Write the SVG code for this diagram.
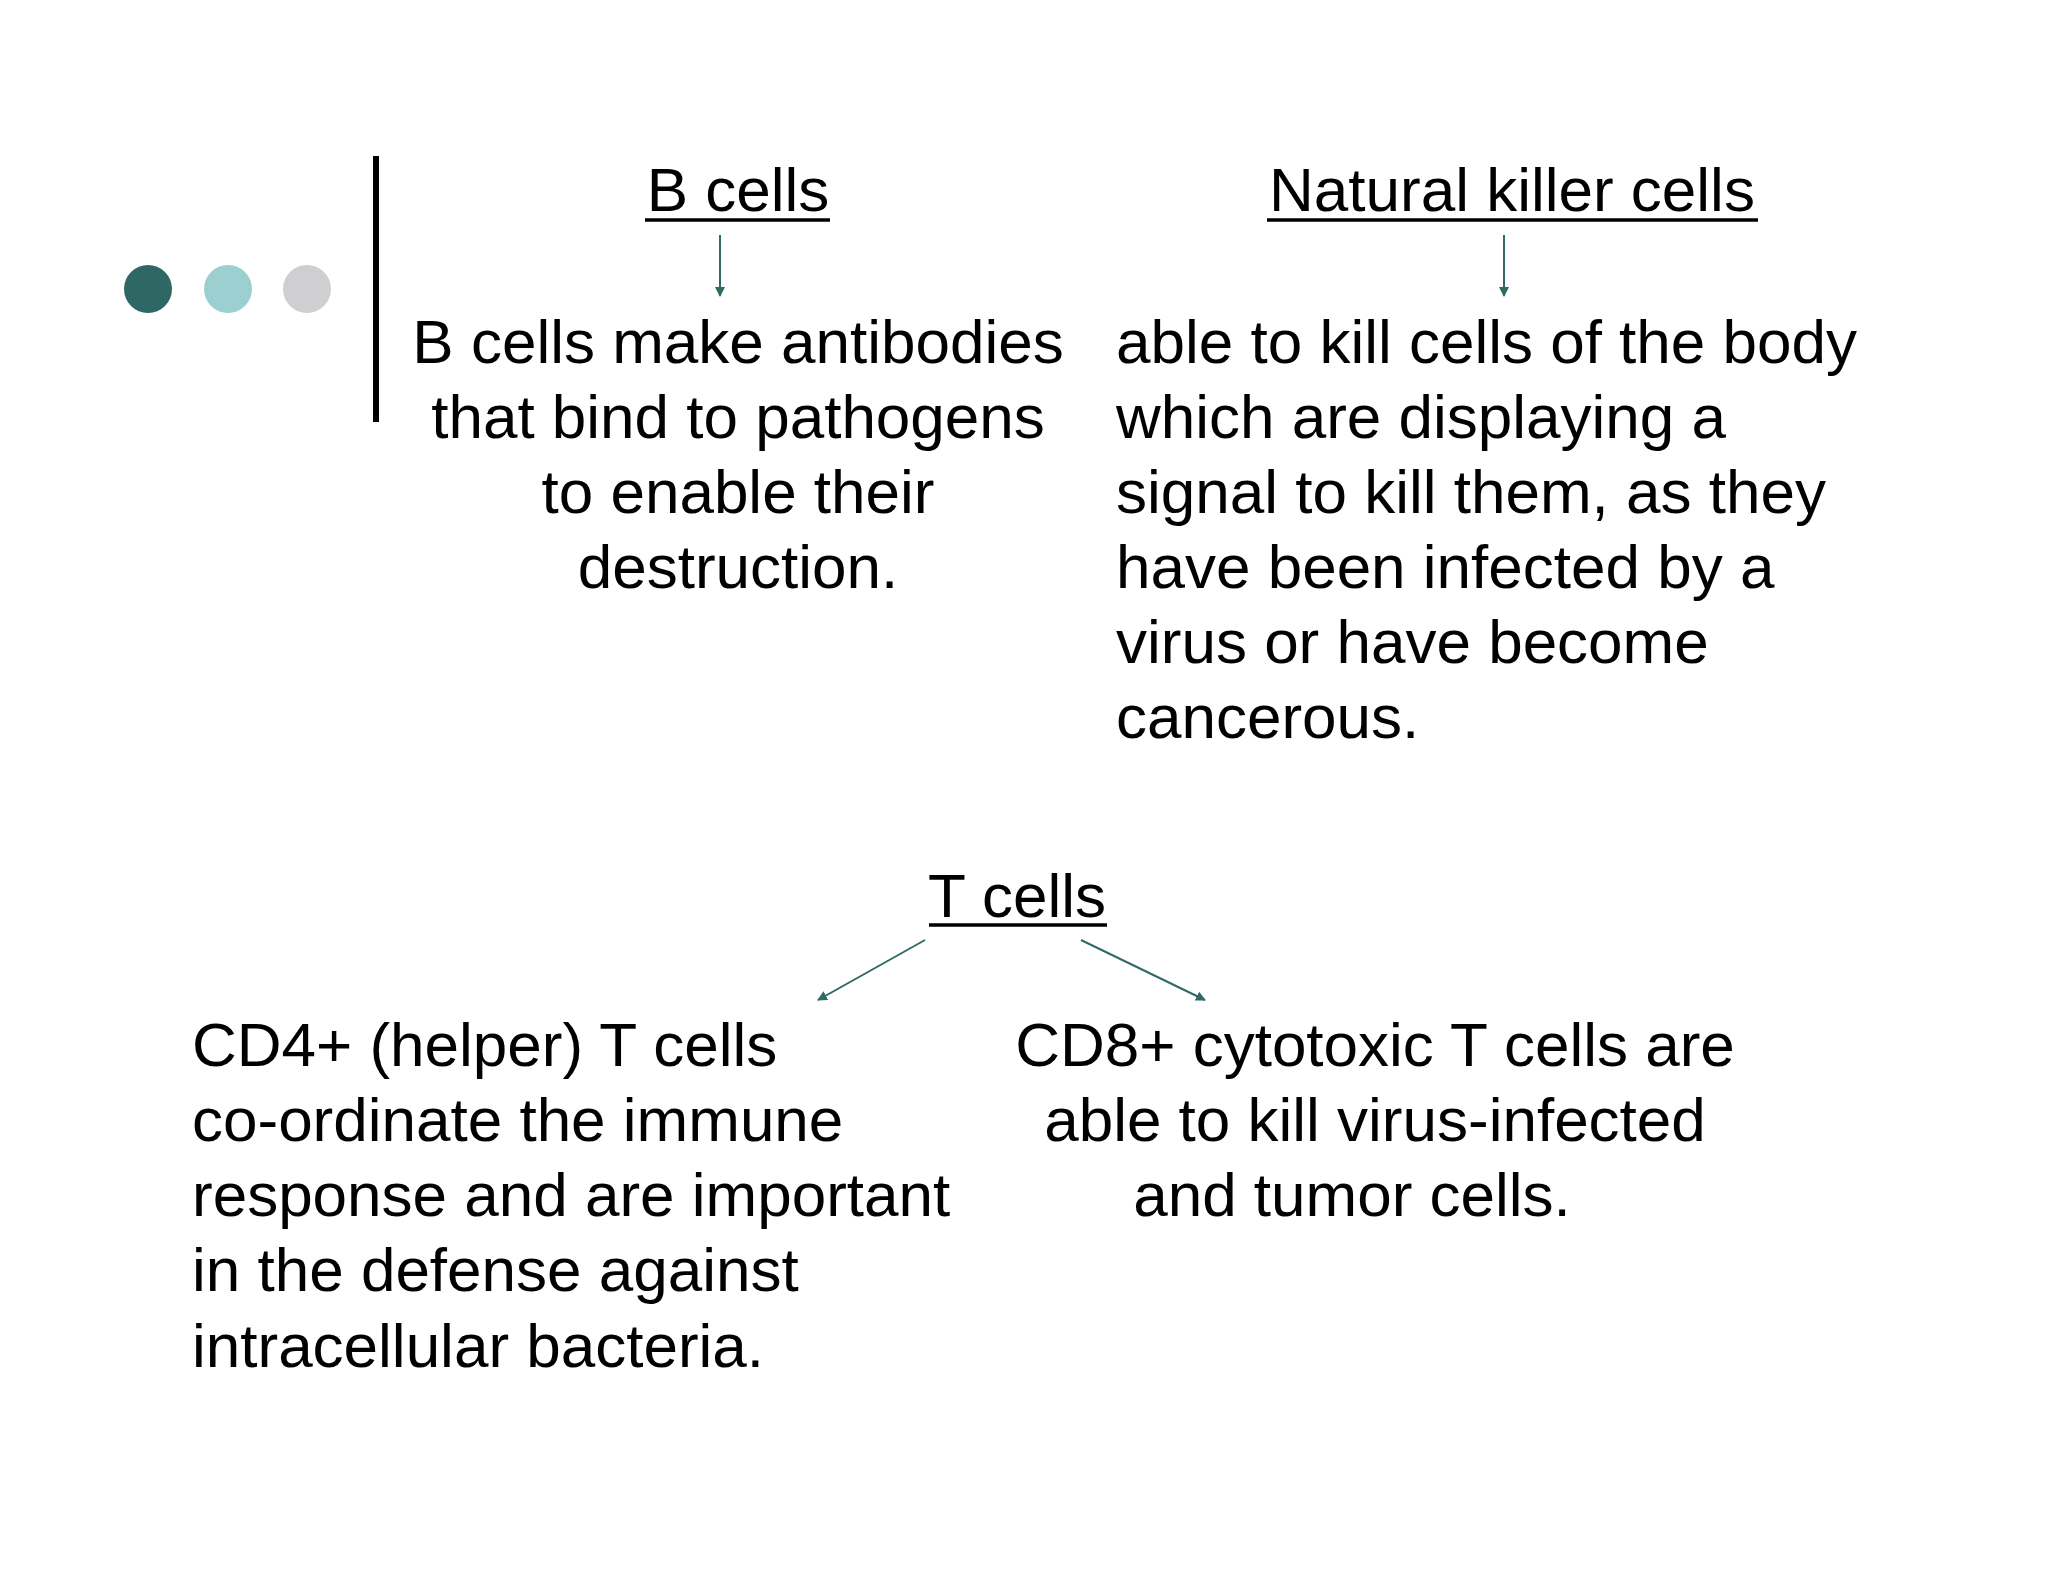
<svg xmlns="http://www.w3.org/2000/svg" width="2048" height="1582" viewBox="0 0 2048 1582">
<style>
text{font-family:"Liberation Sans",Arial,sans-serif;font-size:62px;fill:#000}
.c{text-anchor:middle}
.ul{stroke:#000;stroke-width:3.5}
.ar{stroke:#2f6a64;stroke-width:2;fill:none;marker-end:url(#ah)}
</style>
<defs><marker id="ah" markerWidth="10" markerHeight="10" refX="9" refY="5" orient="auto" markerUnits="userSpaceOnUse" viewBox="0 0 10 10"><path d="M0,0 L10,5 L0,10 z" fill="#2f6a64" transform="scale(1)"/></marker></defs>
<rect width="2048" height="1582" fill="#fff"/>
<g id="decor">
<circle cx="148" cy="289" r="24" fill="#2e6764"/>
<circle cx="228" cy="289" r="24" fill="#9ccfcf"/>
<circle cx="307" cy="289" r="24" fill="#cfcfd1"/>
<rect x="373" y="156" width="6" height="266" fill="#000"/>
</g>
<g id="bcells"><text class="c" x="738" y="211">B cells</text><line class="ul" x1="645" y1="220" x2="830" y2="220"/></g>
<g id="bdesc"><text class="c" x="738" y="363">B cells make antibodies</text><text class="c" x="738" y="438">that bind to pathogens</text><text class="c" x="738" y="513">to enable their</text><text class="c" x="738" y="588">destruction.</text></g>
<g id="nk"><text class="c" x="1512" y="211">Natural killer cells</text><line class="ul" x1="1267" y1="220" x2="1758" y2="220"/></g>
<g id="nkdesc"><text x="1116" y="363">able to kill cells of the body</text><text x="1116" y="438">which are displaying a</text><text x="1116" y="513">signal to kill them, as they</text><text x="1116" y="588">have been infected by a</text><text x="1116" y="663">virus or have become</text><text x="1116" y="738">cancerous.</text></g>
<g id="tcells"><text class="c" x="1017" y="917">T cells</text><line class="ul" x1="929" y1="925" x2="1107" y2="925"/></g>
<g id="cd4"><text x="192" y="1066">CD4+ (helper) T cells</text><text x="192" y="1141">co-ordinate the immune</text><text x="192" y="1216">response and are important</text><text x="192" y="1291">in the defense against</text><text x="192" y="1367">intracellular bacteria.</text></g>
<g id="cd8"><text class="c" x="1375" y="1066">CD8+ cytotoxic T cells are</text><text class="c" x="1375" y="1141">able to kill virus-infected</text><text class="c" x="1352" y="1216">and tumor cells.</text></g>
<g id="connectors">
<line class="ar" x1="720" y1="235" x2="720" y2="296"/>
<line class="ar" x1="1504" y1="235" x2="1504" y2="296"/>
<line class="ar" x1="925" y1="940" x2="818" y2="1000"/>
<line class="ar" x1="1081" y1="940" x2="1205" y2="1000"/>
</g>
</svg>
